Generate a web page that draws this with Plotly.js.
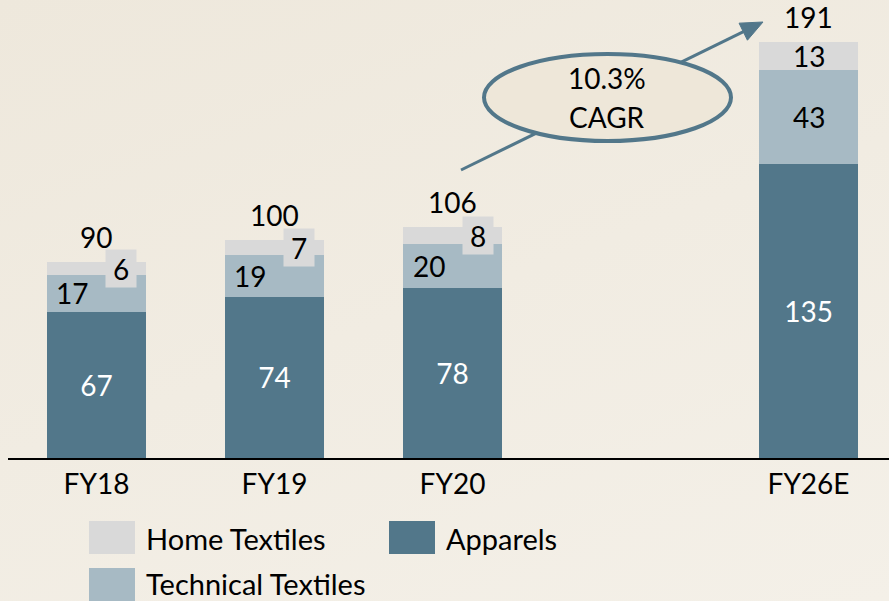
<!DOCTYPE html>
<html>
<head>
<meta charset="utf-8">
<script src="https://cdn.plot.ly/plotly-3.0.1.min.js"></script>
<style>
  html, body { margin: 0; padding: 0; }
  body { width: 889px; height: 601px; overflow: hidden;
         background: linear-gradient(160deg, #eee8dc 0%, #f1ece2 50%, #f4f0e8 100%); }
  #chart { width: 889px; height: 601px; }
</style>
</head>
<body>
<div id="chart"></div>
<script>
// ---- data ----
const categories = ['FY18', 'FY19', 'FY20', 'FY26E'];
const slotOrder = ['FY18', 'FY19', 'FY20', ' ', 'FY26E'];
const apparels = [67, 74, 78, 135];
const technical = [17, 19, 20, 43];
const home = [6, 7, 8, 13];
const totals = [90, 100, 106, 191];
const seriesNames = ['Home Textiles', 'Technical Textiles', 'Apparels'];
const cagrText = ['10.3%', 'CAGR'];

// ---- styles ----
const C_APP = '#52778a', C_TECH = '#a7bac4', C_HOME = '#d9d9d9', C_TXT = '#000000';
const FONT = 'Lato, "Open Sans", sans-serif';
const FS = 28;
const W = 889, H = 601, ML = 8, MR = 0, MT = 0, MB = 143;
const PW = W - ML - MR, PH = H - MT - MB;
const px2x = p => (p - ML) / PW;         // pixel -> paper x
const px2y = p => (H - MB - p) / PH;     // pixel -> paper y

const barW = 0.556;
const traces = [
  { type: 'bar', name: seriesNames[2], x: categories, y: apparels, width: barW,
    marker: { color: C_APP }, text: apparels.map(String), textposition: 'inside',
    insidetextanchor: 'middle', textfont: { color: '#ffffff', size: FS, family: FONT },
    hoverinfo: 'x+y+name' },
  { type: 'bar', name: seriesNames[1], x: categories, y: technical, width: barW,
    marker: { color: C_TECH }, textposition: 'none', hoverinfo: 'x+y+name' },
  { type: 'bar', name: seriesNames[0], x: categories, y: home, width: barW,
    marker: { color: C_HOME }, textposition: 'none', hoverinfo: 'x+y+name' }
];

const annotations = [];
categories.forEach((c, i) => {
  const last = i === categories.length - 1;
  // technical label
  annotations.push({ x: c, y: apparels[i] + technical[i] / 2, xref: 'x', yref: 'y',
    text: String(technical[i]), showarrow: false, xshift: last ? 0 : -24,
    xanchor: 'center', yanchor: 'middle',
    font: { size: FS, family: FONT, color: C_TXT } });
  // home label
  annotations.push({ x: c, y: apparels[i] + technical[i] + home[i] / 2, xref: 'x', yref: 'y',
    text: String(home[i]), showarrow: false, xshift: last ? 0 : 25,
    bgcolor: last ? 'rgba(0,0,0,0)' : C_HOME, width: last ? null : 28, height: last ? null : 35,
    xanchor: 'center', yanchor: 'middle',
    font: { size: FS, family: FONT, color: C_TXT } });
  // total label
  annotations.push({ x: c, y: totals[i], xref: 'x', yref: 'y', text: String(totals[i]),
    showarrow: false, xanchor: 'center', yanchor: 'middle', yshift: 25,
    font: { size: FS, family: FONT, color: C_TXT } });
});

// CAGR text
annotations.push({ xref: 'paper', yref: 'paper', x: px2x(607), y: px2y(78), text: cagrText[0],
  xanchor: 'center', yanchor: 'middle', showarrow: false,
  font: { size: FS, family: FONT, color: C_TXT } });
annotations.push({ xref: 'paper', yref: 'paper', x: px2x(607), y: px2y(117), text: cagrText[1],
  xanchor: 'center', yanchor: 'middle', showarrow: false,
  font: { size: FS, family: FONT, color: C_TXT } });

// legend (custom)
const legendItems = [
  { name: seriesNames[0], color: C_HOME, sx: 89, sy: 521, tx: 146, ty: 538 },
  { name: seriesNames[2], color: C_APP, sx: 389, sy: 521, tx: 446, ty: 538 },
  { name: seriesNames[1], color: C_TECH, sx: 89, sy: 568, tx: 146, ty: 584 }
];
const shapes = [];
legendItems.forEach(it => {
  shapes.push({ type: 'rect', xref: 'paper', yref: 'paper', x0: px2x(it.sx), x1: px2x(it.sx + 46),
    y0: px2y(it.sy), y1: px2y(it.sy + 33), fillcolor: it.color, line: { width: 0 } });
  annotations.push({ xref: 'paper', yref: 'paper', x: px2x(it.tx), y: px2y(it.ty), xanchor: 'left',
    yanchor: 'middle', text: it.name, showarrow: false, xshift: -2,
    font: { size: 29, family: FONT, color: C_TXT } });
});

// arrow line, ellipse, arrowhead
const A0 = [461, 170], T = [763, 22];
const dx = T[0] - A0[0], dy = T[1] - A0[1], L = Math.hypot(dx, dy);
const ux = dx / L, uy = dy / L, nx = -uy, ny = ux;
const HL = 22, HW = 9.5;
const B = [T[0] - HL * ux, T[1] - HL * uy];
shapes.push({ type: 'line', xref: 'paper', yref: 'paper', x0: px2x(A0[0]), y0: px2y(A0[1]),
  x1: px2x(B[0] + 2 * ux), y1: px2y(B[1] + 2 * uy), line: { color: C_APP, width: 3 } });
shapes.push({ type: 'circle', xref: 'paper', yref: 'paper', x0: px2x(484), x1: px2x(731),
  y0: px2y(141), y1: px2y(54), fillcolor: '#eee7d9', line: { color: C_APP, width: 4 } });
const p1 = [B[0] + HW * nx, B[1] + HW * ny], p2 = [B[0] - HW * nx, B[1] - HW * ny];
shapes.push({ type: 'path', xref: 'paper', yref: 'paper',
  path: `M ${px2x(T[0])} ${px2y(T[1])} L ${px2x(p1[0])} ${px2y(p1[1])} L ${px2x(p2[0])} ${px2y(p2[1])} Z`,
  fillcolor: C_APP, line: { color: C_APP, width: 1 } });

const layout = {
  width: W, height: H,
  margin: { l: ML, r: MR, t: MT, b: MB, pad: 0 },
  paper_bgcolor: 'rgba(0,0,0,0)', plot_bgcolor: 'rgba(0,0,0,0)',
  barmode: 'stack', showlegend: false,
  font: { family: FONT, size: FS, color: C_TXT },
  xaxis: { type: 'category', categoryorder: 'array', categoryarray: slotOrder,
    range: [-0.497, 4.452], showgrid: false, zeroline: false, showline: true,
    linecolor: '#000000', linewidth: 2, ticks: '', tickvals: categories, ticktext: categories,
    tickfont: { size: FS, family: FONT, color: C_TXT }, fixedrange: true },
  yaxis: { range: [0, 210.1], visible: false, fixedrange: true },
  annotations: annotations,
  shapes: shapes
};

Plotly.newPlot('chart', traces, layout, { displayModeBar: false, staticPlot: true });
</script>
</body>
</html>
